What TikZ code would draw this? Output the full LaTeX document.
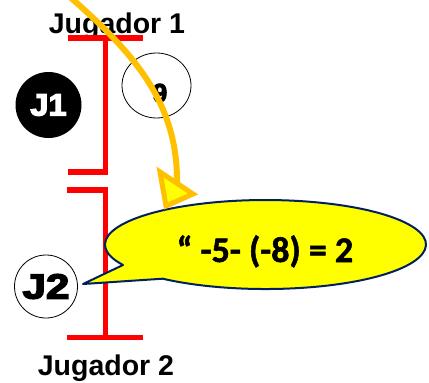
\documentclass[tikz,border=0pt]{standalone}
\usepackage{fontspec}
\usetikzlibrary{shapes.geometric}
\setmainfont{Liberation Sans}
\newfontfamily\heavyfont{Liberation Sans Bold}[FakeBold=4]
\newfontfamily\eqfont{Carlito Bold}[FakeBold=1.5]
\definecolor{arcorange}{HTML}{FFC000}
\definecolor{callyellow}{HTML}{FFFF00}
\definecolor{callnavy}{HTML}{002060}
\begin{document}
\begin{tikzpicture}[x=1pt,y=-1pt,
  bracket/.style={draw=red, line width=5.8pt, line join=miter},
  lbl/.style={font=\bfseries\fontsize{28.5}{30}\selectfont, inner sep=0pt},
  playerb/.style={circle, fill=black, inner sep=0pt, minimum size=66pt, text=white},
  playerw/.style={circle, draw=black, line width=0.8pt, fill=white, inner sep=0pt, minimum size=63pt, text=black},
  callshape/.style={draw=callnavy, line width=2pt, fill=callyellow, line join=round},
  arcline/.style={draw=arcorange, line width=6pt},
  archead/.style={draw=arcorange, fill=callyellow, line width=5pt, line join=miter}]
\useasboundingbox (0,0) rectangle (429,383);
\clip (0,0) rectangle (429,383);
% titles
\node[lbl, anchor=base] (jug1) at (117,33) {Jugador 1};
\node[lbl, anchor=base] (jug2) at (106,375) {Jugador 2};
% brackets
\draw[bracket] (68,38) -- (143,38);
\draw[bracket] (105.5,38) -- (105.5,172) -- (68,172);
\draw[bracket] (67,190) -- (105.5,190) -- (105.5,337.5);
\draw[bracket] (67,337.5) -- (143,337.5);
% players
\node[playerb, font=\heavyfont\fontsize{31}{32}\selectfont] (j1) at (48.5,105) {\raisebox{-1.5pt}{\scalebox{1.05}[1]{J1}}};
\node[playerw, font=\heavyfont\fontsize{35}{36}\selectfont] (j2) at (46,286.5) {\raisebox{-1.5pt}{\scalebox{1.2}[1]{J2}}};
% circle with 9
\node[ellipse, draw=black, line width=0.8pt, minimum width=69pt, minimum height=65pt, inner sep=0pt] (c9) at (156.5,85.5) {};
\node[font=\heavyfont\fontsize{26}{28}\selectfont, inner sep=0pt] (nine) at (160,93) {9};
% callout
\draw[callshape] (162.7,278.7) -- (83,284) -- (123,265)
  arc[start angle=152.6, end angle=489.8, x radius=160.5, y radius=44.5] -- cycle;
\node[font=\eqfont\fontsize{36}{38}\selectfont, anchor=base, inner sep=0pt] (eq) at (265,262) {“ -5- (-8) = 2};
% orange arrow
\coordinate (arcstart) at (70,-3);
\coordinate (arcend) at (177,183);
\draw[arcline] (arcstart) .. controls (130,50) and (178,100) .. (arcend);
\draw[archead] (160,172) -- (193,194) -- (166,206) -- cycle;
\end{tikzpicture}
\end{document}
